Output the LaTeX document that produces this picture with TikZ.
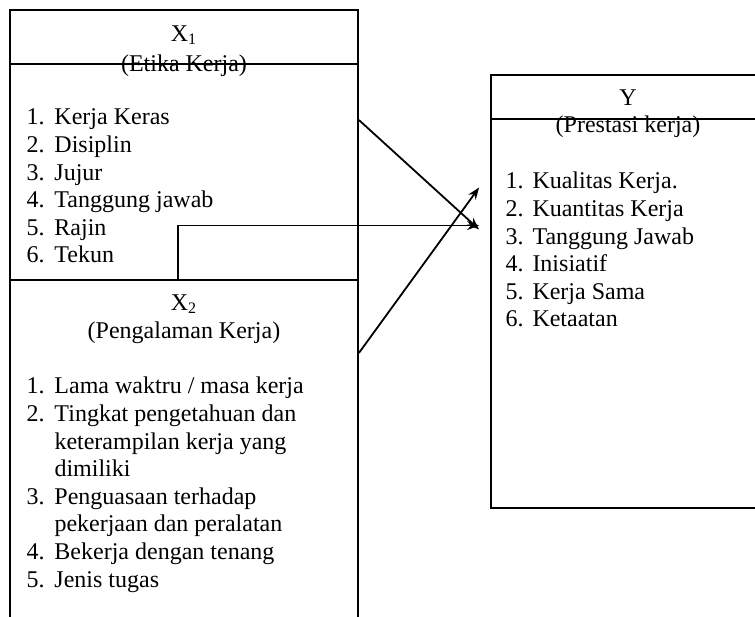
\documentclass[tikz,border=0pt]{standalone}
\usepackage{fontspec}
\setmainfont{Liberation Serif}
\usetikzlibrary{arrows.meta,positioning}
\tikzset{
    %Define standard arrow tip
    >={Stealth[length=6pt,width=4.5pt]},
    %Define style for boxes
    varbox/.style={
           rectangle,
           draw=black, line width=0.9pt,
           inner sep=0pt},
    head/.style={
           align=center,
           inner sep=0pt,
           font=\fontsize{12}{13.8}\selectfont},
    itemlist/.style={
           inner sep=0pt,
           font=\fontsize{12}{13.8}\selectfont},
    % Define arrow style
    pil/.style={
           ->,
           line width=0.9pt}
}

\begin{document}
\begin{tikzpicture}[x=1pt,y=1pt,node distance=7.5pt]
\clip (0,0) rectangle (377.5,308);
\node[varbox, minimum width=174pt, minimum height=135pt](1) at (92,235.5){};
\node[varbox, minimum width=174pt, minimum height=190pt](2) at (92,73){};
\node[varbox, minimum width=137pt, minimum height=216.5pt](3) at (314,162.25){};
% header lines
\draw[line width=0.9pt] ([yshift=-27.5pt]1.north west) -- ([yshift=-27.5pt]1.north east);
\draw[line width=0.9pt] ([yshift=-22.5pt]3.north west) -- ([yshift=-22.5pt]3.north east);

\node[head, below=8pt of 1.north](4){X\textsubscript{1}\\[1.5pt](Etika Kerja)};
\node[head, below=of 2.north](5){X\textsubscript{2}\\[0.5pt](Pengalaman Kerja)};
\node[head, below=of 3.north](6){Y\\(Prestasi kerja)};

\node[itemlist, below right=48pt and 8.5pt of 1.north west](7){%
\begin{tabular}[t]{@{}p{14pt}@{}l@{}}
1. & Kerja Keras\\
2. & Disiplin\\
3. & Jujur\\
4. & Tanggung jawab\\
5. & Rajin\\
6. & Tekun
\end{tabular}};
\node[itemlist, below right=47.5pt and 8.5pt of 2.north west](8){%
\begin{tabular}[t]{@{}p{14pt}@{}l@{}}
1. & Lama waktru / masa kerja\\
2. & Tingkat pengetahuan dan\\
   & keterampilan kerja yang\\
   & dimiliki\\
3. & Penguasaan terhadap\\
   & pekerjaan dan peralatan\\
4. & Bekerja dengan tenang\\
5. & Jenis tugas
\end{tabular}};
\node[itemlist, below right=47.5pt and 7.5pt of 3.north west](9){%
\begin{tabular}[t]{@{}p{13.5pt}@{}l@{}}
1. & Kualitas Kerja.\\
2. & Kuantitas Kerja\\
3. & Tanggung Jawab\\
4. & Inisiatif\\
5. & Kerja Sama\\
6. & Ketaatan
\end{tabular}};

\draw[pil] ([yshift=12.5pt]1.east) -- ([xshift=-5.5pt,yshift=31pt]3.west);
\draw[pil] ([yshift=58.5pt]2.east) -- ([xshift=-5.5pt,yshift=52pt]3.west);
\draw[pil] ([xshift=-3pt]2.north) |- ([xshift=-5.5pt,yshift=33pt]3.west);
\end{tikzpicture}
\end{document}
